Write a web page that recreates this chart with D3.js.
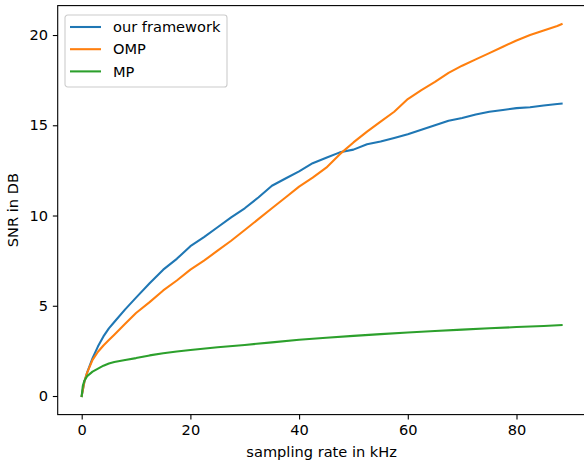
<!DOCTYPE html>
<html>
<head>
<meta charset="utf-8">
<script src="https://cdn.jsdelivr.net/npm/d3@7"></script>
<style>
    body { margin: 0; background: #fff; }
    svg { display: block; font-family: "DejaVu Sans", sans-serif; }
</style>
</head>
<body>
<div id="chart"></div>
<script>
// sampling rate (kHz) / SNR (dB)
const rateA = [0, 0.5, 1, 2, 3, 4, 5, 6, 8, 10, 12.5, 15, 17.5, 20, 22.5, 25, 27.5, 30, 32.5, 35, 37.5, 40, 42.5, 45, 47.5, 50, 52.5, 55, 57.5, 60, 62.5, 65, 67.5, 70, 72.5, 75, 77.5, 80, 82.5, 85, 87.5, 88.3];
const ourFramework = [0, 0.8, 1.3, 2.1, 2.75, 3.3, 3.75, 4.1, 4.8, 5.45, 6.25, 7.0, 7.6, 8.3, 8.8, 9.35, 9.9, 10.4, 11.0, 11.65, 12.05, 12.45, 12.9, 13.2, 13.5, 13.65, 13.95, 14.1, 14.3, 14.5, 14.75, 15.0, 15.25, 15.4, 15.6, 15.75, 15.85, 15.95, 16.0, 16.1, 16.18, 16.2];
const omp = [0, 0.8, 1.3, 2.0, 2.45, 2.8, 3.1, 3.4, 4.0, 4.6, 5.2, 5.85, 6.4, 7.0, 7.5, 8.05, 8.6, 9.2, 9.8, 10.4, 11.0, 11.6, 12.1, 12.65, 13.4, 14.05, 14.65, 15.2, 15.75, 16.45, 16.95, 17.4, 17.9, 18.3, 18.65, 19.0, 19.35, 19.7, 20.0, 20.25, 20.5, 20.6];
const rateB = [0, 0.2, 0.5, 1, 2, 3, 4, 5, 6, 8, 10, 12.5, 15, 17.5, 20, 25, 30, 35, 40, 45, 50, 55, 60, 65, 70, 75, 80, 85, 88.3];
const mp = [0, 0.55, 0.85, 1.1, 1.35, 1.52, 1.68, 1.8, 1.88, 2.0, 2.1, 2.25, 2.37, 2.47, 2.55, 2.7, 2.83, 2.97, 3.12, 3.23, 3.33, 3.43, 3.52, 3.6, 3.68, 3.75, 3.82, 3.88, 3.93];

const seriesNames = ["our framework", "OMP", "MP"];
const seriesColors = ["#1f77b4", "#ff7f0e", "#2ca02c"];
const xTicks = [0, 20, 40, 60, 80];
const yTicks = [0, 5, 10, 15, 20];

const width = 584, height = 460;
const margin = { top: 5.6, right: -1.6, bottom: 45.4, left: 57.7 };
const innerW = width - margin.left - margin.right;
const innerH = height - margin.top - margin.bottom;
const fontSize = 14.6;

let svg = d3.select("#chart").append("svg")
    .attr("width", width)
    .attr("height", height);

let g = svg.append("g")
    .attr("transform", `translate(${margin.left}, ${margin.top})`);

let x = d3.scaleLinear().domain([-4.415, 92.715]).range([0, innerW]);
let y = d3.scaleLinear().domain([-1.03, 21.63]).range([innerH, 0]);

let series = [
    { name: seriesNames[0], color: seriesColors[0], xs: rateA, ys: ourFramework },
    { name: seriesNames[1], color: seriesColors[1], xs: rateA, ys: omp },
    { name: seriesNames[2], color: seriesColors[2], xs: rateB, ys: mp }
];

let line = d3.line()
    .x(d => x(d[0]))
    .y(d => y(d[1]));

for (let s of series) {
    g.append("path")
        .datum(s.xs.map((v, i) => [v, s.ys[i]]))
        .attr("fill", "none")
        .attr("stroke", s.color)
        .attr("stroke-width", 2.08)
        .attr("stroke-linejoin", "round")
        .attr("stroke-linecap", "square")
        .attr("d", line);
}

// axes
let xAxis = g.append("g")
    .attr("transform", `translate(0, ${innerH})`)
    .call(d3.axisBottom(x).tickValues(xTicks).tickSize(4.86).tickPadding(4.86).tickFormat(d3.format("d")));
let yAxis = g.append("g")
    .call(d3.axisLeft(y).tickValues(yTicks).tickSize(4.86).tickPadding(4.86).tickFormat(d3.format("d")));

for (let ax of [xAxis, yAxis]) {
    ax.select(".domain").remove();
    ax.selectAll(".tick line").attr("stroke", "#000").attr("stroke-width", 1.1);
    ax.selectAll(".tick text")
        .attr("fill", "#000")
        .attr("font-family", "DejaVu Sans, sans-serif")
        .attr("font-size", fontSize);
}

// spines
g.append("rect")
    .attr("x", 0).attr("y", 0)
    .attr("width", innerW).attr("height", innerH)
    .attr("fill", "none")
    .attr("stroke", "#000")
    .attr("stroke-width", 1.1);

// axis labels
svg.append("text")
    .attr("x", margin.left + innerW / 2)
    .attr("y", 457)
    .attr("text-anchor", "middle")
    .attr("font-size", fontSize)
    .text("sampling rate in kHz");

svg.append("text")
    .attr("transform", `translate(17.8, ${margin.top + innerH / 2}) rotate(-90)`)
    .attr("text-anchor", "middle")
    .attr("font-size", fontSize)
    .text("SNR in DB");

// legend
let legend = svg.append("g").attr("transform", "translate(65, 15)");
legend.append("rect")
    .attr("width", 162).attr("height", 72)
    .attr("rx", 2.8)
    .attr("fill", "#fff").attr("fill-opacity", 0.8)
    .attr("stroke", "#ccc").attr("stroke-width", 1.1);

series.forEach((s, i) => {
    let yy = 12 + i * 22.2;
    legend.append("line")
        .attr("x1", 5).attr("x2", 36)
        .attr("y1", yy).attr("y2", yy)
        .attr("stroke", s.color)
        .attr("stroke-width", 2.08);
    legend.append("text")
        .attr("x", 48).attr("y", yy)
        .attr("dy", "0.36em")
        .attr("font-size", fontSize)
        .text(s.name);
});
</script>
</body>
</html>
